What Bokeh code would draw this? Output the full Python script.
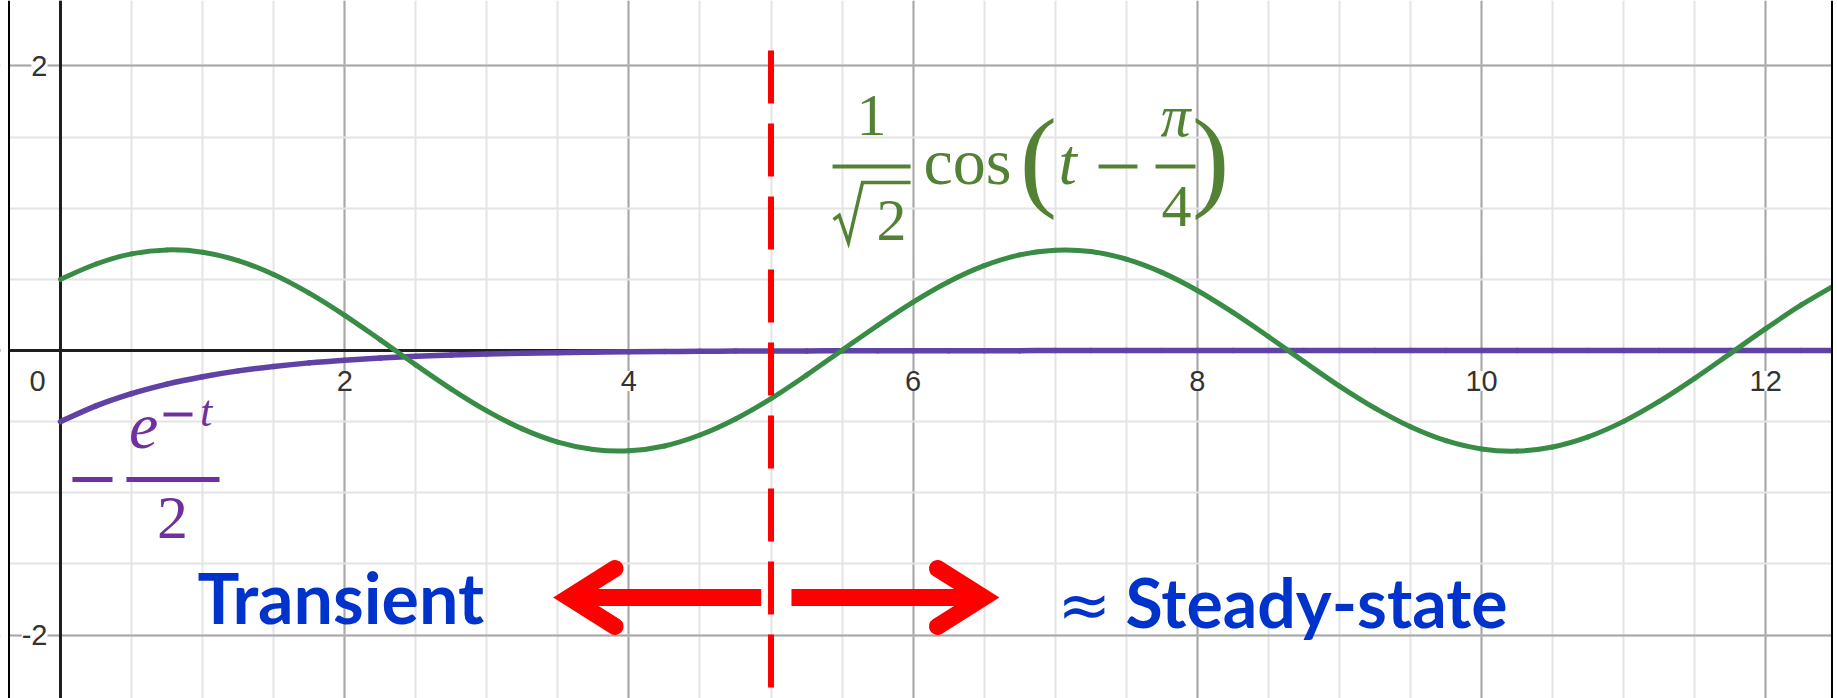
from bokeh.plotting import figure
from bokeh.models import Range1d, Grid, SingleIntervalTicker, Span, BoxAnnotation, ColumnDataSource
from bokeh.core.properties import value
from bokeh.embed import file_html
from bokeh.resources import INLINE

# ---------------- data ----------------
T = [0.0, 0.25, 0.5, 0.75, 1.0, 1.25, 1.5, 1.75, 2.0, 2.25, 2.5, 2.75, 3.0, 3.25, 3.5, 3.75,
     4.0, 4.25, 4.5, 4.75, 5.0, 5.25, 5.5, 5.75, 6.0, 6.25, 6.5, 6.75, 7.0, 7.25, 7.5, 7.75,
     8.0, 8.25, 8.5, 8.75, 9.0, 9.25, 9.5, 9.75, 10.0, 10.25, 10.5, 10.75, 11.0, 11.25, 11.5,
     11.75, 12.0, 12.25, 12.5]
# green curve: (1/sqrt2) cos(t - pi/4)
STEADY = [0.500, 0.608, 0.679, 0.707, 0.691, 0.632, 0.534, 0.403, 0.247, 0.075, -0.101, -0.271,
          -0.424, -0.551, -0.644, -0.696, -0.705, -0.671, -0.594, -0.481, -0.338, -0.173, 0.002,
          0.176, 0.340, 0.483, 0.596, 0.672, 0.705, 0.696, 0.642, 0.549, 0.422, 0.268, 0.098,
          -0.078, -0.250, -0.405, -0.536, -0.634, -0.692, -0.707, -0.678, -0.607, -0.498, -0.358,
          -0.196, -0.022, 0.154, 0.320, 0.466]
# purple curve: -e^(-t)/2
TRANSIENT = [-0.500, -0.389, -0.303, -0.236, -0.184, -0.143, -0.112, -0.087, -0.068, -0.053,
             -0.041, -0.032, -0.025, -0.019, -0.015, -0.012, -0.009, -0.007, -0.006, -0.004,
             -0.003, -0.003, -0.002, -0.002, -0.001, -0.001, -0.001, -0.001, 0.0, 0.0, 0.0, 0.0,
             0.0, 0.0, 0.0, 0.0, 0.0, 0.0, 0.0, 0.0, 0.0, 0.0, 0.0, 0.0, 0.0, 0.0, 0.0, 0.0,
             0.0, 0.0, 0.0]
X_TICKS = [2, 4, 6, 8, 10, 12]
X_TICK_LABELS = ["2", "4", "6", "8", "10", "12"]
Y_TICKS = [2, -2]
Y_TICK_LABELS = ["2", "-2"]
T_SPLIT = 5.0

# ---------------- figure ----------------
W, H = 1837, 698
X_LO, X_HI = -0.4222, 12.505
Y_LO, Y_HI = -2.4455, 2.4596
PXX = W / (X_HI - X_LO)   # pixels per x unit
PXY = H / (Y_HI - Y_LO)   # pixels per y unit


def mid(baseline_y, size_px):
    """y of the text's middle line for a wanted alphabetic baseline."""
    return baseline_y + 0.36 * size_px / PXY


p = figure(width=W, height=H, x_range=Range1d(X_LO, X_HI), y_range=Range1d(Y_LO, Y_HI),
           x_axis_location=None, y_axis_location=None, toolbar_location=None,
           output_backend="svg", min_border=0, outline_line_color=None,
           background_fill_color="white", border_fill_color="white")

for dim in (0, 1):
    p.add_layout(Grid(dimension=dim, ticker=SingleIntervalTicker(interval=2, num_minor_ticks=4),
                      grid_line_color="#a8a8a8", grid_line_width=2,
                      minor_grid_line_color="#e4e4e4", minor_grid_line_width=2))

# axes lines
p.add_layout(Span(location=0, dimension="width", line_color="#1e1e1e", line_width=3, level="underlay"))
p.add_layout(Span(location=0, dimension="height", line_color="#1e1e1e", line_width=3, level="underlay"))


def smooth(xs, ys):
    """Bezier segments (Catmull-Rom) passing through the read points."""
    n = len(xs)
    out = dict(x0=[], y0=[], x1=[], y1=[], cx0=[], cy0=[], cx1=[], cy1=[])
    for i in range(n - 1):
        a, b = max(i - 1, 0), min(i + 2, n - 1)
        out["x0"].append(xs[i]); out["y0"].append(ys[i])
        out["x1"].append(xs[i + 1]); out["y1"].append(ys[i + 1])
        out["cx0"].append(xs[i] + (xs[i + 1] - xs[a]) / 6.0)
        out["cy0"].append(ys[i] + (ys[i + 1] - ys[a]) / 6.0)
        out["cx1"].append(xs[i + 1] - (xs[b] - xs[i]) / 6.0)
        out["cy1"].append(ys[i + 1] - (ys[b] - ys[i]) / 6.0)
    return ColumnDataSource(out)


BZ = dict(x0="x0", y0="y0", x1="x1", y1="y1", cx0="cx0", cy0="cy0", cx1="cx1", cy1="cy1")
p.bezier(source=smooth(T, TRANSIENT), line_color="#6042a6", line_width=5.5, line_cap="round", **BZ)
p.bezier(source=smooth(T, STEADY), line_color="#388c46", line_width=5, line_cap="round", **BZ)

# tick labels
TICK_FONT = value("Liberation Sans")
TS = 29
p.text(x=X_TICKS, y=mid(-0.288, TS), text=X_TICK_LABELS, text_font=TICK_FONT,
       text_font_size=f"{TS}px", text_color="#333333", text_align="center",
       text_baseline="middle", background_fill_color="white")
p.text(x=[-0.162], y=mid(-0.288, TS), text=["0"], text_font=TICK_FONT,
       text_font_size=f"{TS}px", text_color="#333333", text_align="center",
       text_baseline="middle", background_fill_color="white")
p.text(x=-0.0915, y=Y_TICKS, text=Y_TICK_LABELS, text_font=TICK_FONT,
       text_font_size=f"{TS}px", text_color="#333333", text_align="right",
       text_baseline="middle", background_fill_color="white")

# red dashed divider
p.line(x=[T_SPLIT, T_SPLIT], y=[2.108, Y_LO - 0.5], line_color="#ff0000", line_width=6,
       line_dash="53 20", line_cap="butt")

# red arrows (shaft + open V head)
RED = "#ff0000"
ARROW_Y = -1.736
HEAD_LEN, HEAD_HALF = 46 / PXX, 29 / PXY
for xs, xv, d in ((4.931, 3.579, -1), (5.144, 6.495, 1)):
    p.line(x=[xs, xv], y=[ARROW_Y, ARROW_Y], line_color=RED, line_width=17, line_cap="butt")
    p.line(x=[xv - d * HEAD_LEN, xv, xv - d * HEAD_LEN],
           y=[ARROW_Y + HEAD_HALF, ARROW_Y, ARROW_Y - HEAD_HALF],
           line_color=RED, line_width=17, line_cap="round", line_join="miter")


def label(x, y_base, txt, font, size, color, align="left", style="normal"):
    p.text(x=[x], y=[mid(y_base, size)], text=[txt], text_font=value(font),
           text_font_style=style, text_font_size=f"{size}px", text_color=color,
           text_align=align, text_baseline="middle")


# labels
BLUE = "#0033cc"
label(0.964, -1.911, "Transient", "Lato", 70, BLUE, style="bold")
p.text(x=[7.016], y=[-1.785], text=["\u2248"], text_font=value("DejaVu Sans"),
       text_font_size="64px", text_color=BLUE, text_align="left", text_baseline="middle")
label(7.495, -1.933, "Steady-state", "Lato", 68, BLUE, style="bold")

# green formula  1/sqrt(2) cos(t - pi/4)
GREEN = "#548235"
SERIF = "Liberation Serif"
label(5.707, 1.497, "1", SERIF, 60, GREEN, align="center")
label(5.848, 0.759, "2", SERIF, 60, GREEN, align="center")
p.line(x=[5.44, 5.48, 5.545, 5.644, 5.982], y=[0.92, 0.95, 0.76, 1.181, 1.181],
       line_color=GREEN, line_width=3.5, line_join="miter")
p.segment(x0=[5.433, 7.305, 7.706], y0=[1.293, 1.293, 1.293],
          x1=[5.982, 7.579, 7.987], y1=[1.293, 1.293, 1.293], line_color=GREEN, line_width=4)
label(6.073, 1.160, "cos", SERIF, 66, GREEN)
label(6.882, 1.068, "(", SERIF, 112, GREEN, align="center")
label(8.093, 1.068, ")", SERIF, 112, GREEN, align="center")
label(7.087, 1.160, "t", SERIF, 66, GREEN, align="center", style="italic")
label(7.847, 1.497, "\u03c0", SERIF, 60, GREEN, align="center", style="italic")
label(7.854, 0.857, "4", SERIF, 60, GREEN, align="center")

# purple formula  -e^(-t)/2
PURPLE = "#7030a0"
p.segment(x0=[0.084, 0.464], y0=[-0.907, -0.907], x1=[0.366, 1.119], y1=[-0.907, -0.907],
          line_color=PURPLE, line_width=5)
p.segment(x0=[0.725], y0=[-0.450], x1=[0.929], y1=[-0.450], line_color=PURPLE, line_width=4)
label(0.585, -0.703, "e", SERIF, 66, PURPLE, align="center", style="italic")
label(1.025, -0.541, "t", SERIF, 44, PURPLE, align="center", style="italic")
label(0.788, -1.335, "2", SERIF, 62, PURPLE, align="center")

# white margins outside the picture's frame, and its left / right black border
LEFT_EDGE, RIGHT_EDGE = X_LO + 8.5 / PXX, X_HI - 5.5 / PXX
p.add_layout(BoxAnnotation(right=LEFT_EDGE, fill_color="white", fill_alpha=1, line_alpha=0))
p.add_layout(BoxAnnotation(left=RIGHT_EDGE, fill_color="white", fill_alpha=1, line_alpha=0))
p.add_layout(Span(location=LEFT_EDGE, dimension="height", line_color="black", line_width=2))
p.add_layout(Span(location=RIGHT_EDGE, dimension="height", line_color="black", line_width=2))

open("out.html", "w").write(file_html(p, INLINE))
